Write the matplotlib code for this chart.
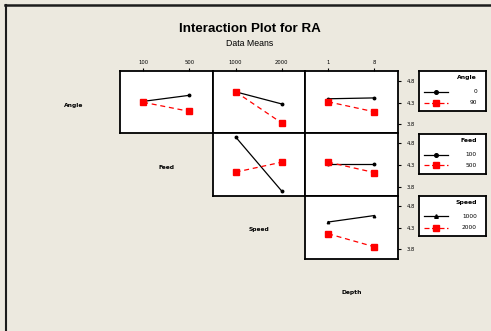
import matplotlib
matplotlib.use('Agg')
import matplotlib.pyplot as plt
from matplotlib.lines import Line2D

# factors in matrix order, with their two levels
factors = ['Angle', 'Feed', 'Speed', 'Depth']
levels = {
    'Angle': ['0', '90'],
    'Feed': ['100', '500'],
    'Speed': ['1000', '2000'],
    'Depth': ['1', '8'],
}

# RA data means: [trace level][x level]
angle_feed = [[4.33, 4.47], [4.31, 4.10]]
angle_speed = [[4.55, 4.27], [4.55, 3.83]]
angle_depth = [[4.39, 4.41], [4.32, 4.09]]
feed_speed = [[4.95, 3.70], [4.14, 4.37]]
feed_depth = [[4.33, 4.33], [4.37, 4.13]]
speed_depth = [[4.43, 4.58], [4.16, 3.86]]

means = {
    ('Angle', 'Feed'): angle_feed,
    ('Angle', 'Speed'): angle_speed,
    ('Angle', 'Depth'): angle_depth,
    ('Feed', 'Speed'): feed_speed,
    ('Feed', 'Depth'): feed_depth,
    ('Speed', 'Depth'): speed_depth,
}
y_ticks = [3.8, 4.3, 4.8]
y_tick_labels = ['3.8', '4.3', '4.8']

W, H = 491, 331
BG = '#ece9df'
RED = '#ff0000'

# symbol for the first level of each trace factor
first_marker = {'Angle': 'o', 'Feed': 'o', 'Speed': '^'}


def fx(px):
    return px / W


def fy(py):
    return 1 - py / H


def box(l, t, r, b):
    return [fx(l), fy(b), (r - l) / W, (b - t) / H]


fig = plt.figure(figsize=(W / 100, H / 100), dpi=100, facecolor=BG)

col_edges = [120, 212.5, 305, 397.5]
row_edges = [71, 133.5, 196, 258.5]

# matrix of interaction panels
for i, trace in enumerate(factors[:-1]):
    for j in range(i + 1, len(factors)):
        xf = factors[j]
        c = j - 1
        ax = fig.add_axes(box(col_edges[c], row_edges[i], col_edges[c + 1], row_edges[i + 1]))
        ax.set_facecolor('white')
        vals = means[(trace, xf)]
        xs = [0, 1]
        ax.plot(xs, vals[0], color='black', lw=0.9, ls='-',
                marker=first_marker[trace], ms=1.8)
        ax.plot(xs, vals[1], color=RED, lw=0.9, ls=(0, (4, 3)),
                marker='s', ms=3.8)
        ax.set_xlim(-0.5, 1.5)
        ax.set_ylim(3.59, 5.03)
        for s in ax.spines.values():
            s.set_linewidth(1.3)
        ax.set_xticks(xs)
        ax.set_yticks(y_ticks)
        if i == 0:
            ax.set_xticklabels(levels[xf])
            ax.tick_params(axis='x', top=True, bottom=False, labeltop=True,
                           labelbottom=False, labelsize=3.8, length=2.5,
                           width=0.8, pad=2)
        else:
            ax.tick_params(axis='x', top=False, bottom=False,
                           labeltop=False, labelbottom=False)
        if j == len(factors) - 1:
            ax.yaxis.tick_right()
            ax.set_yticklabels(y_tick_labels)
            ax.tick_params(axis='y', right=True, left=False, labelright=True,
                           labelleft=False, labelsize=3.8, length=2.5,
                           width=0.8, pad=4)
        else:
            ax.tick_params(axis='y', left=False, right=False,
                           labelleft=False, labelright=False)

# factor names on the diagonal
for k, name in enumerate(factors):
    cx = (col_edges[k - 1] + col_edges[k]) / 2 if k > 0 else col_edges[0] - 46
    r_top = row_edges[k] if k < len(row_edges) else row_edges[-1] + 62.5
    cy = r_top + 34
    fig.text(fx(cx), fy(cy), name, ha='center', va='center',
             fontsize=4.3, fontweight='bold')

# legends, one per trace factor
leg_tops = [71, 134, 196]
for k, trace in enumerate(factors[:-1]):
    t = leg_tops[k]
    lax = fig.add_axes(box(419, t, 486, t + 40))
    lax.set_xlim(0, 67)
    lax.set_ylim(40, 0)
    lax.set_xticks([])
    lax.set_yticks([])
    lax.set_facecolor('white')
    for s in lax.spines.values():
        s.set_linewidth(1.3)
    lax.text(58, 6.5, trace, ha='right', va='center', fontsize=4.4,
             fontweight='bold')
    lax.plot([5, 17, 29], [20.5, 20.5, 20.5], color='black', lw=0.9,
             marker=first_marker[trace], ms=2.6, markevery=[1])
    lax.plot([5, 17, 29], [31.5, 31.5, 31.5], color=RED, lw=0.9,
             ls=(0, (4, 2)), marker='s', ms=4, markevery=[1])
    lax.text(58, 20.5, levels[trace][0], ha='right', va='center', fontsize=4.2)
    lax.text(58, 31.5, levels[trace][1], ha='right', va='center', fontsize=4.2)

fig.text(fx(250), fy(29), 'Interaction Plot for RA', ha='center', va='center',
         fontsize=9.6, fontweight='bold', family='Liberation Sans')
fig.text(fx(250), fy(43), 'Data Means', ha='center', va='center',
         fontsize=6.3, family='Liberation Sans')

# window frame edges
fig.add_artist(Line2D([fx(5), 1], [fy(4.5), fy(4.5)],
                      transform=fig.transFigure, color='#1c1c1c', lw=1.8))
fig.add_artist(Line2D([fx(6), fx(6)], [fy(4.5), 0],
                      transform=fig.transFigure, color='#1c1c1c', lw=1.5))

fig.savefig('out.png', dpi=100, facecolor=BG)
